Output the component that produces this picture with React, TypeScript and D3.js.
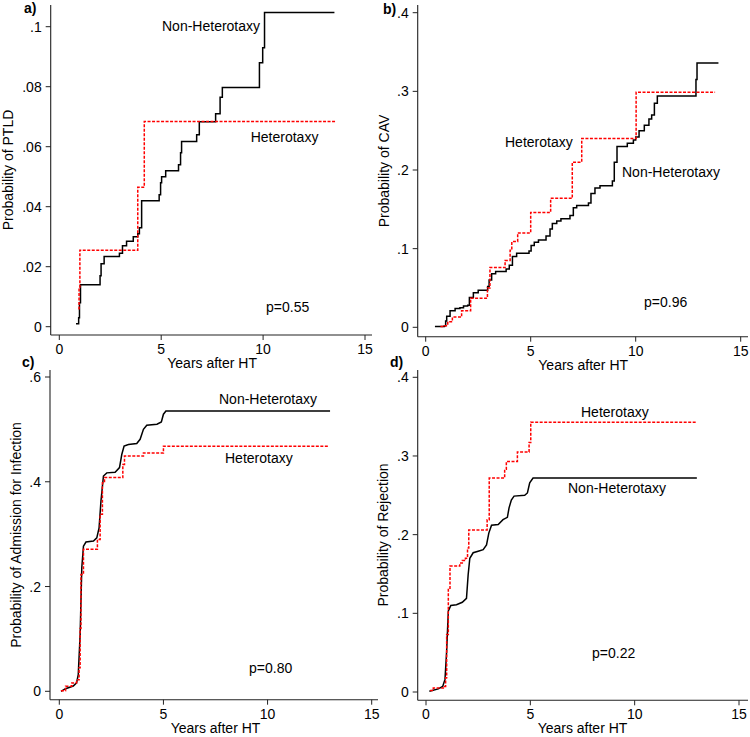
import { scaleLinear, line, curveStepAfter, curveLinear } from 'd3'

const FONT = '"Liberation Sans", Arial, Helvetica, sans-serif'

// [years after HT, cumulative probability]
const ptldNonHet: [number, number][] = [
  [0.82, 0.001], [0.95, 0.003], [0.99, 0.008], [1.04, 0.014], [2.0, 0.017], [2.05, 0.021],
  [2.2, 0.0234], [2.95, 0.0245], [3.1, 0.027], [3.3, 0.0285], [3.63, 0.030], [3.85, 0.031],
  [3.93, 0.033], [4.04, 0.042], [4.9, 0.044], [4.97, 0.048], [5.02, 0.050], [5.22, 0.052],
  [5.85, 0.054], [5.95, 0.058], [6.0, 0.0617], [6.74, 0.064], [6.87, 0.0683], [7.67, 0.071],
  [7.89, 0.0765], [8.0, 0.0797], [9.82, 0.088], [9.98, 0.093], [10.07, 0.1047], [13.5, 0.1047]
]
const ptldHet: [number, number][] = [
  [0.93, 0.006], [0.97, 0.0125], [1.01, 0.0255], [3.85, 0.0465], [4.17, 0.0684], [13.55, 0.0684]
]

const cavNonHet: [number, number][] = [
  [0.44, 0.001], [0.89, 0.002], [0.95, 0.008], [1.0, 0.014], [1.16, 0.021], [1.4, 0.024],
  [1.63, 0.025], [1.8, 0.027], [2.0, 0.028], [2.08, 0.038], [2.27, 0.044], [2.5, 0.047],
  [2.95, 0.052], [3.02, 0.060], [3.14, 0.068], [3.33, 0.071], [3.83, 0.074], [3.98, 0.079],
  [4.13, 0.090], [4.33, 0.094], [4.92, 0.097], [5.02, 0.104], [5.17, 0.108], [5.37, 0.111],
  [5.73, 0.116], [5.92, 0.125], [6.03, 0.132], [6.24, 0.135], [6.44, 0.138], [6.87, 0.142],
  [7.03, 0.152], [7.19, 0.155], [7.75, 0.158], [7.87, 0.170], [8.06, 0.177], [8.3, 0.180],
  [8.89, 0.186], [8.98, 0.210], [9.11, 0.230], [9.6, 0.234], [9.89, 0.238], [10.0, 0.242],
  [10.16, 0.250], [10.41, 0.257], [10.63, 0.265], [10.76, 0.270], [10.89, 0.285], [11.03, 0.294],
  [12.87, 0.315], [12.92, 0.336], [13.94, 0.336]
]
const cavHet: [number, number][] = [
  [0.7, 0.001], [0.9, 0.002], [1.05, 0.007], [1.27, 0.013], [1.71, 0.021], [2.14, 0.037],
  [2.94, 0.050], [3.06, 0.076], [3.78, 0.085], [4.02, 0.098], [4.1, 0.109], [4.38, 0.120],
  [5.0, 0.146], [5.95, 0.164], [6.98, 0.210], [7.43, 0.240], [10.02, 0.299], [13.78, 0.299]
]

const infNonHet: [number, number][] = [
  [0.08, 0], [0.3, 0.005], [0.67, 0.010], [0.83, 0.016], [0.91, 0.032], [1.0, 0.108],
  [1.08, 0.236], [1.16, 0.277], [1.28, 0.285], [1.64, 0.287], [1.8, 0.293], [1.91, 0.312],
  [2.0, 0.363], [2.12, 0.411], [2.28, 0.417], [2.68, 0.418], [2.89, 0.427], [3.0, 0.452],
  [3.11, 0.468], [3.32, 0.471], [3.72, 0.473], [3.88, 0.481], [4.04, 0.500], [4.2, 0.508],
  [4.69, 0.510], [4.9, 0.514], [5.0, 0.529], [5.12, 0.535], [13.0, 0.535]
]
const infHet: [number, number][] = [
  [0.08, 0.001], [0.3, 0.0096], [0.6, 0.016], [0.83, 0.022], [0.95, 0.045], [1.0, 0.12],
  [1.04, 0.223], [1.16, 0.271], [1.83, 0.29], [1.96, 0.338], [2.07, 0.398], [2.17, 0.408],
  [3.05, 0.433], [3.13, 0.449], [4.04, 0.455], [5.0, 0.468], [12.95, 0.468]
]

const rejNonHet: [number, number][] = [
  [0.16, 0.001], [0.59, 0.004], [0.8, 0.007], [0.91, 0.016], [0.99, 0.052], [1.07, 0.103],
  [1.19, 0.110], [1.46, 0.111], [1.74, 0.114], [1.94, 0.119], [2.02, 0.149], [2.1, 0.170],
  [2.26, 0.177], [2.5, 0.179], [2.74, 0.181], [2.9, 0.187], [3.01, 0.202], [3.14, 0.212],
  [3.46, 0.213], [3.69, 0.219], [3.9, 0.222], [3.98, 0.234], [4.09, 0.244], [4.22, 0.249],
  [4.73, 0.250], [4.86, 0.253], [4.97, 0.266], [5.13, 0.272], [12.98, 0.272]
]
const rejHet: [number, number][] = [
  [0.19, 0.002], [0.35, 0.005], [0.83, 0.007], [0.94, 0.018], [0.99, 0.073], [1.07, 0.132],
  [1.15, 0.160], [1.62, 0.164], [1.74, 0.167], [1.89, 0.170], [1.99, 0.183], [2.05, 0.206],
  [2.93, 0.219], [3.03, 0.272], [3.77, 0.283], [3.85, 0.293], [4.38, 0.305], [4.94, 0.317],
  [5.02, 0.343], [12.98, 0.343]
]

const xTicks = [0, 5, 10, 15]
const ptldTicks = [0, 0.02, 0.04, 0.06, 0.08, 0.1]
const cavTicks = [0, 0.1, 0.2, 0.3, 0.4]
const infTicks = [0, 0.2, 0.4, 0.6]
const rejTicks = [0, 0.1, 0.2, 0.3, 0.4]

const pValues = ['p=0.55', 'p=0.96', 'p=0.80', 'p=0.22']
const yTitles = ['Probability of PTLD', 'Probability of CAV', 'Probability of Admission for Infection', 'Probability of Rejection']

const fmt = (d: number) => (d === 0 ? '0' : String(d).replace(/^0/, ''))

// layout for each panel (pixel positions)
const panels = [
  {
    letter: 'a)', letterXY: [24, 13], title: yTitles[0], titleXY: [13, 170],
    xr: [59.3, 365], yr: [326.7, 26.7], yMax: 0.1, yTicks: ptldTicks,
    axisX: 50.7, axisY: 335, axisTop: 5, axisRight: 372,
    black: ptldNonHet, red: ptldHet, blackCurve: curveStepAfter,
    labels: [
      { t: 'Non-Heterotaxy', x: 162, y: 31 },
      { t: 'Heterotaxy', x: 250.7, y: 142 },
      { t: pValues[0], x: 266, y: 312 }
    ]
  },
  {
    letter: 'b)', letterXY: [383, 14], title: yTitles[1], titleXY: [388.5, 171],
    xr: [425.7, 740.7], yr: [327.3, 12.7], yMax: 0.4, yTicks: cavTicks,
    axisX: 417.7, axisY: 336.7, axisTop: 5, axisRight: 748,
    black: cavNonHet, red: cavHet, blackCurve: curveStepAfter,
    labels: [
      { t: 'Heterotaxy', x: 505, y: 147 },
      { t: 'Non-Heterotaxy', x: 622, y: 177 },
      { t: pValues[1], x: 644, y: 307 }
    ]
  },
  {
    letter: 'c)', letterXY: [22, 367], title: yTitles[2], titleXY: [20.5, 535],
    xr: [59.3, 371.7], yr: [691.3, 377], yMax: 0.6, yTicks: infTicks,
    axisX: 50, axisY: 699.7, axisTop: 370, axisRight: 378,
    black: infNonHet, red: infHet, blackCurve: curveLinear,
    labels: [
      { t: 'Non-Heterotaxy', x: 219, y: 404 },
      { t: 'Heterotaxy', x: 225, y: 463 },
      { t: pValues[2], x: 249, y: 673 }
    ]
  },
  {
    letter: 'd)', letterXY: [390, 367], title: yTitles[3], titleXY: [388, 535],
    xr: [426, 739], yr: [692, 377.3], yMax: 0.4, yTicks: rejTicks,
    axisX: 417.7, axisY: 700.3, axisTop: 370, axisRight: 748,
    black: rejNonHet, red: rejHet, blackCurve: curveLinear,
    labels: [
      { t: 'Heterotaxy', x: 581, y: 417 },
      { t: 'Non-Heterotaxy', x: 568, y: 493 },
      { t: pValues[3], x: 592, y: 658 }
    ]
  }
]

function Panel({ p }: { p: any }) {
  const x = scaleLinear().domain([0, 15]).range(p.xr)
  const y = scaleLinear().domain([0, p.yMax]).range(p.yr)
  const redLine = line<[number, number]>().x(d => x(d[0])).y(d => y(d[1])).curve(curveStepAfter)
  const blackLine = line<[number, number]>().x(d => x(d[0])).y(d => y(d[1])).curve(p.blackCurve)
  const midX = (p.xr[0] + p.xr[1]) / 2
  return (
    <g fontFamily={FONT} fontSize={14} fill="#000">
      <line x1={p.axisX} x2={p.axisX} y1={p.axisTop} y2={p.axisY} stroke="#222" strokeWidth={1.1} />
      <line x1={p.axisX} x2={p.axisRight} y1={p.axisY} y2={p.axisY} stroke="#222" strokeWidth={1.1} />
      {xTicks.map(t => (
        <g key={'x' + t}>
          <line x1={x(t)} x2={x(t)} y1={p.axisY} y2={p.axisY + 5} stroke="#222" />
          <text x={x(t)} y={p.axisY + 19} textAnchor="middle">{t}</text>
        </g>
      ))}
      {p.yTicks.map((t: number) => (
        <g key={'y' + t}>
          <line x1={p.axisX - 5} x2={p.axisX} y1={y(t)} y2={y(t)} stroke="#222" />
          <text x={p.axisX - 9} y={y(t)} dy="0.36em" textAnchor="end">{fmt(t)}</text>
        </g>
      ))}
      <text x={midX} y={p.axisY + 33} textAnchor="middle">Years after HT</text>
      <text transform={`translate(${p.titleXY[0]},${p.titleXY[1]}) rotate(-90)`} textAnchor="middle">{p.title}</text>
      <text x={p.letterXY[0]} y={p.letterXY[1]} fontWeight="bold">{p.letter}</text>
      <path d={blackLine(p.black) ?? ''} fill="none" stroke="#000" strokeWidth={1.5} />
      <path d={redLine(p.red) ?? ''} fill="none" stroke="#ff0000" strokeWidth={1.5} strokeDasharray="3,1.5" />
      {p.labels.map((l: any) => (
        <text key={l.t} x={l.x} y={l.y}>{l.t}</text>
      ))}
    </g>
  )
}

export default function App() {
  return (
    <div style={{ position: 'absolute', left: 0, top: 0 }}>
      <svg width={750} height={737} viewBox="0 0 750 737" style={{ display: 'block', background: '#fff' }}>
        {panels.map(p => <Panel key={p.letter} p={p} />)}
      </svg>
    </div>
  )
}
